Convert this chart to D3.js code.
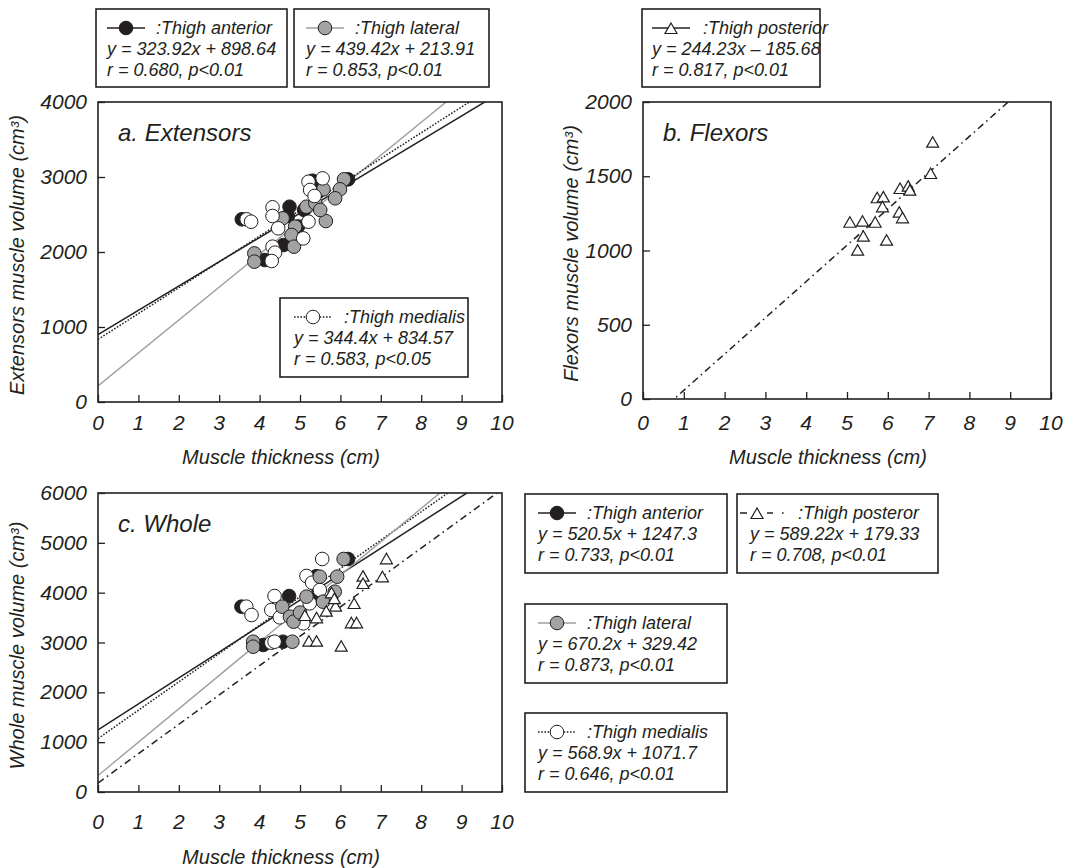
<!DOCTYPE html>
<html>
<head>
<meta charset="utf-8">
<script src="https://cdn.jsdelivr.net/npm/d3@7"></script>
<style>
  html, body { margin: 0; padding: 0; background: #fff; }
  svg text { font-family: "Liberation Sans", Arial, sans-serif; font-style: italic; fill: #231f20; }
</style>
</head>
<body>
<svg id="chart" width="1070" height="868"></svg>
<script>
// ── data (thickness cm, volume cm³) ──
const xTicks = d3.range(0, 11);
const ticksA = [0, 1000, 2000, 3000, 4000];
const ticksB = [0, 500, 1000, 1500, 2000];
const ticksC = [0, 1000, 2000, 3000, 4000, 5000, 6000];

// a. Extensors
const extAnterior = [[3.56, 2436], [4.74, 2604], [5.31, 2951], [6.19, 2969], [4.59, 2093], [4.13, 1893],
  [4.70, 2480], [5.10, 2560], [5.45, 2800], [4.95, 2340]];
const extLateral = [[4.57, 2449], [5.58, 2836], [6.09, 2969], [5.99, 2836], [5.87, 2716], [5.64, 2413],
  [5.16, 2604], [4.88, 2338], [4.79, 2227], [4.85, 2071], [3.87, 1982], [3.87, 1871], [5.38, 2650], [5.50, 2560]];
const extMedialis = [[3.68, 2436], [3.79, 2404], [4.32, 2596], [4.32, 2480], [5.21, 2937], [5.56, 2982],
  [5.25, 2827], [5.36, 2747], [5.21, 2404], [5.08, 2182], [4.46, 2316], [4.32, 2071], [4.38, 1991], [4.30, 1880]];

// b. Flexors
const flxPosterior = [[5.07, 1187], [5.38, 1194], [5.69, 1187], [5.40, 1093], [5.26, 999], [5.97, 1066],
  [5.74, 1352], [5.89, 1358], [5.87, 1291], [6.28, 1255], [6.36, 1217], [6.30, 1414], [6.50, 1430],
  [6.54, 1403], [7.05, 1515], [7.10, 1726]];

// c. Whole
const whlAnterior = [[3.55, 3719], [6.19, 4676], [4.73, 3933], [4.09, 2950], [4.58, 3016], [5.45, 3990],
  [5.40, 4330], [4.95, 3460]];
const whlLateral = [[6.08, 4676], [5.49, 4321], [5.92, 4321], [4.56, 3719], [4.75, 3518], [4.84, 3418],
  [5.16, 3920], [5.57, 3819], [5.86, 4020], [3.84, 3016], [4.81, 3016], [3.84, 2916], [5.00, 3600]];
const whlMedialis = [[3.67, 3719], [3.80, 3552], [5.55, 4676], [5.16, 4335], [5.30, 4200], [4.37, 3933],
  [4.29, 3652], [4.50, 3505], [5.08, 3385], [5.24, 3786], [5.49, 4054], [4.29, 2996], [4.37, 3016]];
const whlPosterior = [[7.14, 4670], [6.56, 4321], [6.56, 4174], [7.04, 4308], [5.78, 3987], [5.88, 3719],
  [5.65, 3618], [6.34, 3773], [5.12, 3532], [5.41, 3486], [6.27, 3385], [6.40, 3385], [5.22, 3016],
  [5.41, 3016], [6.02, 2916], [5.85, 3870]];

// regression fits as printed in the legends [slope, intercept]
const fitExtAnterior = [323.92, 898.64], fitExtLateral = [439.42, 213.91], fitExtMedialis = [344.4, 834.57];
const fitFlxPosterior = [244.23, -185.68];
const fitWhlAnterior = [520.5, 1247.3], fitWhlLateral = [670.2, 329.42], fitWhlMedialis = [568.9, 1071.7];
const fitWhlPosterior = [589.22, 179.33];

const svg = d3.select('#chart');
const INK = '#231f20', GREY = '#a3a3a3', GREYLINE = '#9e9e9e';

// series styles
const STY = {
  anterior: { kind: 'circle', fill: INK, line: INK, dash: null },
  lateral: { kind: 'circle', fill: GREY, line: GREYLINE, dash: null },
  medialis: { kind: 'circle', fill: '#fff', line: INK, dash: '1.6,1.6' },
  posterior: { kind: 'tri', fill: '#fff', line: INK, dash: '7,4,1.6,4' },
};
const triPath = 'M0,-6 L6,4.5 L-6,4.5 Z';

function drawMarker(g, kind, fill, cx, cy) {
  if (kind === 'circle') {
    g.append('circle').attr('cx', cx).attr('cy', cy).attr('r', 6.8)
      .attr('fill', fill).attr('stroke', INK).attr('stroke-width', 1);
  } else {
    g.append('path').attr('d', triPath).attr('transform', `translate(${cx},${cy})`)
      .attr('fill', fill).attr('stroke', INK).attr('stroke-width', 1.2);
  }
}

let clipId = 0;
function panel(o) {
  const x = d3.scaleLinear().domain([0, 10]).range([o.left, o.right]);
  const y = d3.scaleLinear().domain([0, o.yMax]).range([o.bottom, o.top]);
  const g = svg.append('g');
  const id = 'clip' + (clipId++);
  g.append('clipPath').attr('id', id).append('rect')
    .attr('x', o.left).attr('y', o.top).attr('width', o.right - o.left).attr('height', o.bottom - o.top);

  // inward ticks
  g.append('g').attr('transform', `translate(0,${o.bottom})`)
    .call(d3.axisTop(x).tickValues(xTicks).tickSize(7).tickFormat(''))
    .call(s => s.select('.domain').remove())
    .selectAll('line').attr('stroke', INK).attr('stroke-width', 1.3);
  g.append('g').attr('transform', `translate(${o.left},0)`)
    .call(d3.axisRight(y).tickValues(o.yTicks).tickSize(7).tickFormat(''))
    .call(s => s.select('.domain').remove())
    .selectAll('line').attr('stroke', INK).attr('stroke-width', 1.3);

  // tick labels
  g.selectAll('.xl').data(xTicks).enter().append('text')
    .attr('x', d => x(d)).attr('y', o.bottom + o.xLabOff).attr('text-anchor', 'middle')
    .attr('font-size', 21).text(d => d);
  g.selectAll('.yl').data(o.yTicks).enter().append('text')
    .attr('x', o.left - 11).attr('y', d => y(d) + 7).attr('text-anchor', 'end')
    .attr('font-size', 21).text(d => d);

  // titles
  g.append('text').attr('x', (o.left + o.right) / 2 - 19).attr('y', o.bottom + o.xTitleOff)
    .attr('text-anchor', 'middle').attr('font-size', 20).text('Muscle thickness (cm)');
  g.append('text').attr('transform', `translate(${o.yTitleX},${(o.top + o.bottom) / 2 + 3}) rotate(-90)`)
    .attr('text-anchor', 'middle').attr('font-size', 20).text(o.yTitle);
  g.append('text').attr('x', o.left + 20).attr('y', o.top + 39).attr('font-size', 24).text(o.label);

  // regression lines
  const lines = g.append('g').attr('clip-path', `url(#${id})`);
  o.series.forEach(s => {
    const st = STY[s.type];
    const f = s.fit;
    lines.append('line')
      .attr('x1', x(0)).attr('y1', y(f[1])).attr('x2', x(10)).attr('y2', y(f[0] * 10 + f[1]))
      .attr('stroke', st.line).attr('stroke-width', s.type === 'lateral' ? 1.4 : 1.5)
      .attr('stroke-dasharray', st.dash);
  });

  // points
  const pts = g.append('g');
  o.series.forEach(s => {
    const st = STY[s.type];
    s.data.forEach(d => drawMarker(pts, st.kind, st.fill, x(d[0]), y(d[1])));
  });

  // frame
  g.append('rect').attr('x', o.left).attr('y', o.top)
    .attr('width', o.right - o.left).attr('height', o.bottom - o.top)
    .attr('fill', 'none').attr('stroke', INK).attr('stroke-width', 1.6);
}

panel({ left: 98, right: 502, top: 102, bottom: 402, yMax: 4000, yTicks: ticksA,
  xLabOff: 28, xTitleOff: 62, yTitleX: 24, label: 'a. Extensors',
  yTitle: 'Extensors muscle volume (cm³)',
  series: [
    { type: 'anterior', data: extAnterior, fit: fitExtAnterior },
    { type: 'lateral', data: extLateral, fit: fitExtLateral },
    { type: 'medialis', data: extMedialis, fit: fitExtMedialis },
  ] });

panel({ left: 643, right: 1051, top: 102, bottom: 399, yMax: 2000, yTicks: ticksB,
  xLabOff: 31, xTitleOff: 65, yTitleX: 578, label: 'b. Flexors',
  yTitle: 'Flexors muscle volume (cm³)',
  series: [{ type: 'posterior', data: flxPosterior, fit: fitFlxPosterior }] });

panel({ left: 98, right: 502, top: 493, bottom: 792, yMax: 6000, yTicks: ticksC,
  xLabOff: 37, xTitleOff: 72, yTitleX: 24, label: 'c. Whole',
  yTitle: 'Whole muscle volume (cm³)',
  series: [
    { type: 'anterior', data: whlAnterior, fit: fitWhlAnterior },
    { type: 'medialis', data: whlMedialis, fit: fitWhlMedialis },
    { type: 'lateral', data: whlLateral, fit: fitWhlLateral },
    { type: 'posterior', data: whlPosterior, fit: fitWhlPosterior },
  ] });

// ── legend boxes ──
const fmt = (f) => `y = ${f[0]}x ${f[1] < 0 ? '\u2013' : '+'} ${Math.abs(f[1])}`;
function legendBox(b) {
  const g = svg.append('g');
  g.append('rect').attr('x', b.x).attr('y', b.y).attr('width', b.w).attr('height', b.h)
    .attr('fill', '#fff').attr('stroke', INK).attr('stroke-width', 1.6);
  const st = STY[b.type];
  const ly = b.y + 19;
  const sx = b.x + b.pad;
  const symX = b.x + (b.symPad !== undefined ? b.symPad : b.pad);
  const symLen = b.symLen || 38;
  g.append('line').attr('x1', symX).attr('x2', symX + symLen).attr('y1', ly).attr('y2', ly)
    .attr('stroke', st.line).attr('stroke-width', 1.6)
    .attr('stroke-dasharray', b.legendDash !== undefined ? b.legendDash : st.dash);
  drawMarker(g, st.kind, st.fill, symX + (b.markAt || 19), ly + (st.kind === 'tri' ? 1 : 0));
  g.append('text').attr('x', sx + b.nameOff).attr('y', ly + 6).attr('font-size', 18).text(':' + b.name);
  g.append('text').attr('x', sx).attr('y', ly + 27).attr('font-size', 18).text(fmt(b.fit));
  g.append('text').attr('x', sx).attr('y', ly + 48).attr('font-size', 18).text(b.stat);
}

legendBox({ x: 96, y: 9, w: 191, h: 78, pad: 11, nameOff: 49, type: 'anterior', name: 'Thigh anterior',
  fit: fitExtAnterior, stat: 'r = 0.680, p<0.01' });
legendBox({ x: 294, y: 9, w: 195, h: 78, pad: 12, nameOff: 49, type: 'lateral', name: 'Thigh lateral',
  fit: fitExtLateral, stat: 'r = 0.853, p<0.01' });
legendBox({ x: 642, y: 9, w: 178, h: 78, pad: 10, nameOff: 51, type: 'posterior', name: 'Thigh posterior',
  fit: fitFlxPosterior, stat: 'r = 0.817, p<0.01', legendDash: null });
legendBox({ x: 280, y: 298, w: 188, h: 79, pad: 14, nameOff: 50, type: 'medialis', name: 'Thigh medialis',
  fit: fitExtMedialis, stat: 'r = 0.583, p<0.05' });

legendBox({ x: 525, y: 494, w: 202, h: 79, pad: 13, nameOff: 49, type: 'anterior', name: 'Thigh anterior',
  fit: fitWhlAnterior, stat: 'r = 0.733, p<0.01' });
legendBox({ x: 737, y: 494, w: 201, h: 79, pad: 13, nameOff: 48, type: 'posterior', name: 'Thigh posteror',
  fit: fitWhlPosterior, stat: 'r = 0.708, p<0.01', symPad: 3, symLen: 46, markAt: 17,
  legendDash: '7,20,6,9,1.6,20' });
legendBox({ x: 525, y: 604, w: 202, h: 79, pad: 13, nameOff: 49, type: 'lateral', name: 'Thigh lateral',
  fit: fitWhlLateral, stat: 'r = 0.873, p<0.01' });
legendBox({ x: 525, y: 713, w: 202, h: 79, pad: 13, nameOff: 49, type: 'medialis', name: 'Thigh medialis',
  fit: fitWhlMedialis, stat: 'r = 0.646, p<0.01' });
</script>
</body>
</html>
